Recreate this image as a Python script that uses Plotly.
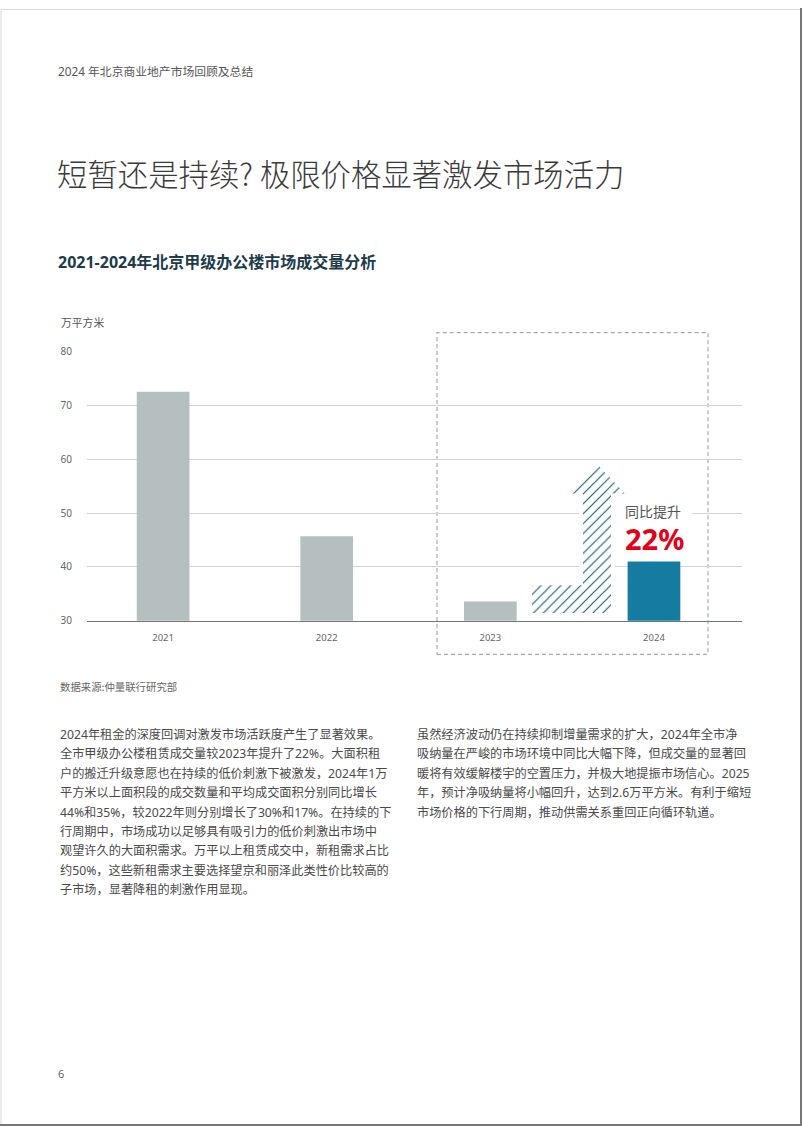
import plotly.graph_objects as go

W, H = 802, 1133

# ---------------- data ----------------
years = ["2021", "2022", "2023", "2024"]
volume = [72.5, 45.7, 33.6, 41.0]          # 万平方米
bar_colors = ["#b6bfbf", "#b6bfbf", "#b6bfbf", "#167ba0"]
y_ticks = [30, 40, 50, 60, 70, 80]

header_text = "2024 年北京商业地产市场回顾及总结"
title_text = "短暂还是持续? 极限价格显著激发市场活力"
chart_title = "2021-2024年北京甲级办公楼市场成交量分析"
unit_text = "万平方米"
source_text = "数据来源:仲量联行研究部"
growth_label = "同比提升"
growth_value = "22%"
page_no = "6"

left_lines = [
    "2024年租金的深度回调对激发市场活跃度产生了显著效果。",
    "全市甲级办公楼租赁成交量较2023年提升了22%。大面积租",
    "户的搬迁升级意愿也在持续的低价刺激下被激发，2024年1万",
    "平方米以上面积段的成交数量和平均成交面积分别同比增长",
    "44%和35%，较2022年则分别增长了30%和17%。在持续的下",
    "行周期中，市场成功以足够具有吸引力的低价刺激出市场中",
    "观望许久的大面积需求。万平以上租赁成交中，新租需求占比",
    "约50%，这些新租需求主要选择望京和丽泽此类性价比较高的",
    "子市场，显著降租的刺激作用显现。",
]
right_lines = [
    "虽然经济波动仍在持续抑制增量需求的扩大，2024年全市净",
    "吸纳量在严峻的市场环境中同比大幅下降，但成交量的显著回",
    "暖将有效缓解楼宇的空置压力，并极大地提振市场信心。2025",
    "年，预计净吸纳量将小幅回升，达到2.6万平方米。有利于缩短",
    "市场价格的下行周期，推动供需关系重回正向循环轨道。",
]

# decorative L-shaped arrow outline (page pixel coordinates)
arrow_x = [597, 625, 611, 611, 532, 532, 583, 583, 570, 597]
arrow_y = [462, 492, 492, 613, 613, 585, 585, 492, 492, 462]

FONT = "Noto Sans, Noto Sans CJK SC, sans-serif"
CJK = "Noto Sans CJK SC, Noto Sans, sans-serif"


def px(x):
    return x / W


def py(y):
    return 1 - y / H


fig = go.Figure()

fig.add_trace(go.Bar(
    x=years, y=volume, marker=dict(color=bar_colors, line=dict(width=0)),
    width=0.322, xaxis="x", yaxis="y", hoverinfo="skip", showlegend=False,
))

# white halo around the decorative arrow (interrupts the gridlines)
fig.add_trace(go.Scatter(
    x=arrow_x, y=arrow_y, mode="lines", fill="toself", fillcolor="white",
    line=dict(color="white", width=8), xaxis="x2", yaxis="y2",
    hoverinfo="skip", showlegend=False,
))
# hatched arrow
fig.add_trace(go.Scatter(
    x=arrow_x, y=arrow_y, mode="lines", fill="toself", fillcolor="white",
    fillpattern=dict(shape="/", fgcolor="#17637f", bgcolor="white", size=7,
                     solidity=0.17, fgopacity=1),
    line=dict(color="rgba(0,0,0,0)", width=0), xaxis="x2", yaxis="y2",
    hoverinfo="skip", showlegend=False,
))

x_left, x_right = 87, 742
y_top, y_bot = 348, 621

fig.update_layout(
    width=W, height=H,
    margin=dict(l=0, r=0, t=0, b=0),
    paper_bgcolor="white", plot_bgcolor="rgba(0,0,0,0)",
    font=dict(family=FONT, color="#555"),
    xaxis=dict(
        domain=[px(x_left), px(x_right)], type="category",
        range=[-0.465, 3.538], showgrid=False, zeroline=False,
        showline=True, linecolor="#6f7878", linewidth=1.3,
        ticks="", tickfont=dict(size=9.5, color="#666", family=FONT),
        ticklabelstandoff=8, anchor="y", fixedrange=True,
    ),
    yaxis=dict(
        domain=[py(y_bot), py(y_top)], range=[30, 80], tickvals=y_ticks,
        showgrid=True, gridcolor="#cfd4d4", gridwidth=1.2, zeroline=False,
        showline=False, ticks="", tickfont=dict(size=10, color="#666", family=FONT),
        ticklabelstandoff=14, anchor="x", fixedrange=True,
    ),
    xaxis2=dict(domain=[0, 1], range=[0, W], visible=False, anchor="y2", fixedrange=True),
    yaxis2=dict(domain=[0, 1], range=[H, 0], visible=False, anchor="x2", fixedrange=True),
)

shapes = [
    # dashed highlight box around 2023-2024
    dict(type="rect", xref="paper", yref="paper",
         x0=px(437), x1=px(708), y0=py(655), y1=py(329),
         line=dict(color="#a8acac", width=1.2, dash="4px,3px"), layer="below"),
    # page border
    dict(type="line", xref="paper", yref="paper", x0=px(1), x1=px(801), y0=py(1.5), y1=py(1.5),
         line=dict(color="#d8d8d8", width=1)),
    dict(type="line", xref="paper", yref="paper", x0=px(1), x1=px(1), y0=py(1.5), y1=py(1132),
         line=dict(color="#d8d8d8", width=1)),
    dict(type="line", xref="paper", yref="paper", x0=px(801), x1=px(801), y0=py(0), y1=py(1133),
         line=dict(color="#777", width=2)),
    dict(type="line", xref="paper", yref="paper", x0=px(0), x1=px(802), y0=py(1132), y1=py(1132),
         line=dict(color="#777", width=2)),
]
fig.update_layout(shapes=shapes)

ann = []


def text(x, y, t, size, color, family=FONT, xanchor="left", weight=None, **kw):
    f = dict(size=size, color=color, family=family)
    if weight is not None:
        f["weight"] = weight
    ann.append(dict(x=px(x), y=py(y), xref="paper", yref="paper", text=t,
                    showarrow=False, xanchor=xanchor, yanchor="middle",
                    font=f, **kw))


text(56, 64, header_text, 11.8, "#555")
text(55, 167, title_text, 30.4, "#3a3a3a", family=CJK, weight=300)
text(56, 257, "<b>" + chart_title + "</b>", 16, "#1d3b4a")
text(59, 318, unit_text, 10.8, "#555", family=CJK)
text(58, 688, source_text, 10.4, "#666", family=CJK)

# growth call-out
text(653, 510, growth_label, 14, "#555", family=CJK, xanchor="center",
     bgcolor="white", width=76, height=22)
text(654, 538, "<b>" + growth_value + "</b>", 29, "#e2001a", xanchor="center")

line_h = 19.7
for i, t in enumerate(left_lines):
    text(58, 736 + i * line_h, t, 12.2, "#4a4a4a")
for i, t in enumerate(right_lines):
    text(415, 736 + i * line_h, t, 12.2, "#4a4a4a")

text(56, 1080, page_no, 11, "#666")

fig.update_layout(annotations=ann)

fig.write_html("out.html")
